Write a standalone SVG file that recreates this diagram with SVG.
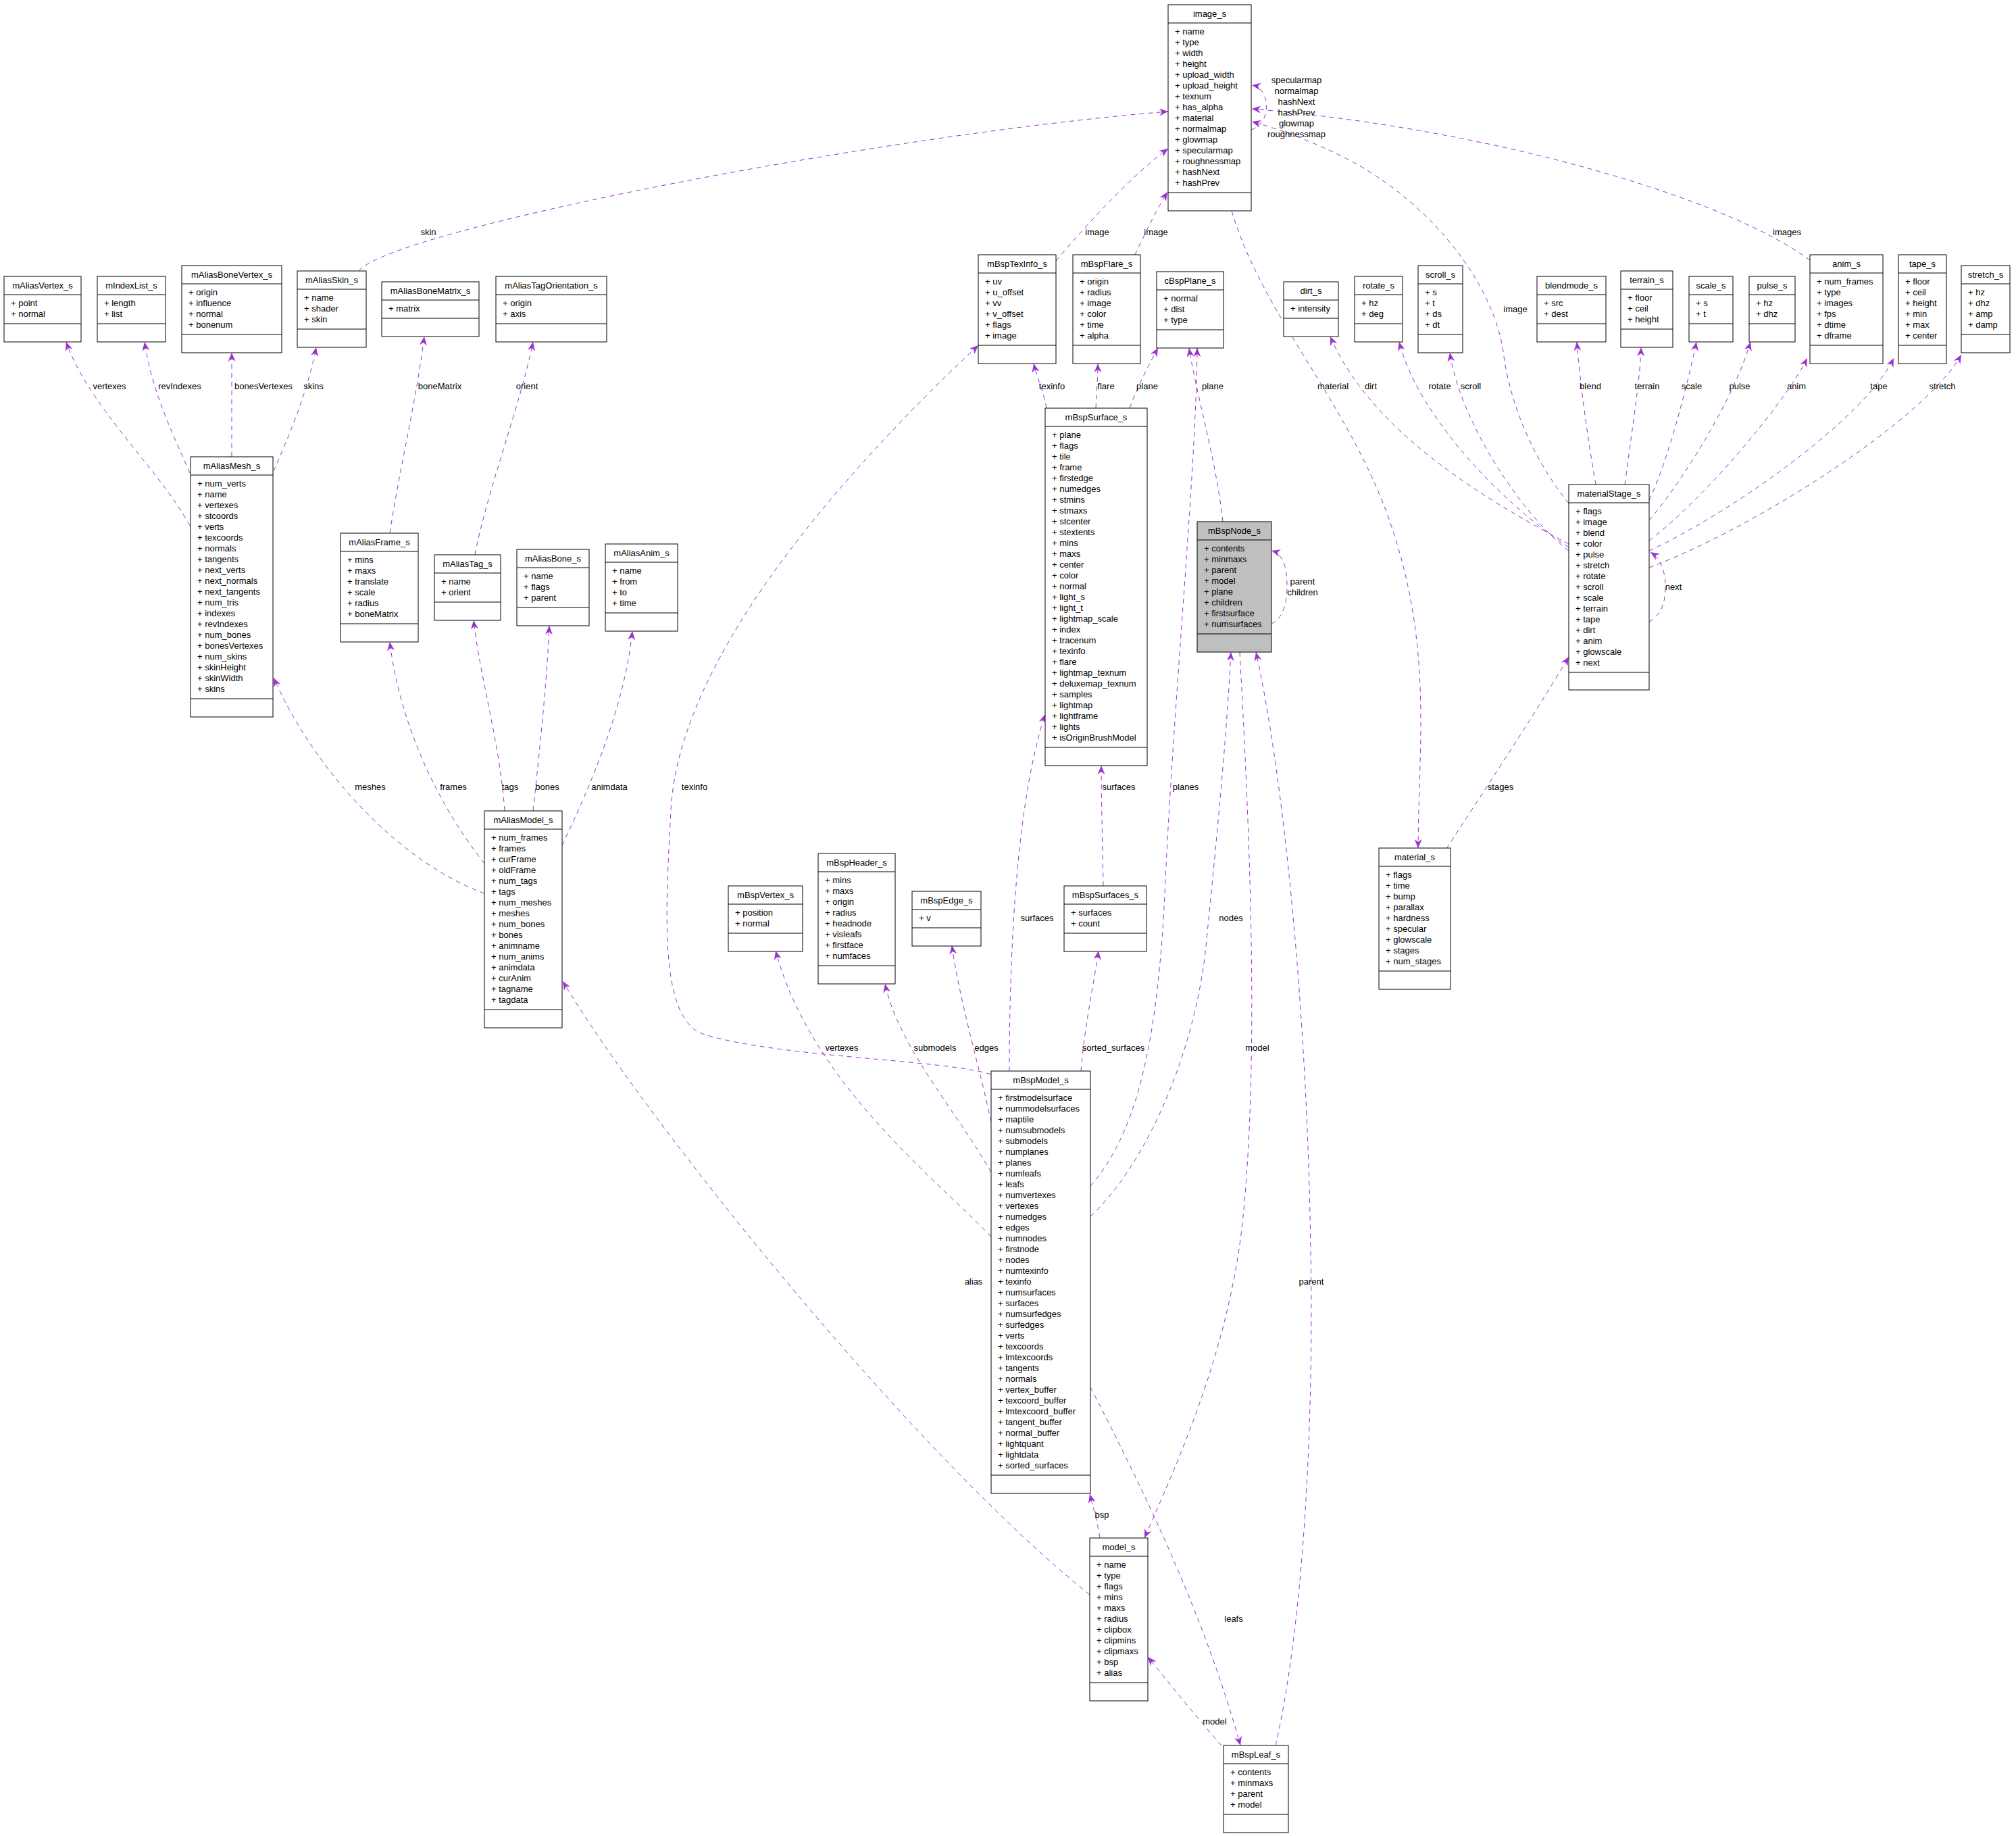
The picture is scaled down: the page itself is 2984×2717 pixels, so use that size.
<svg xmlns="http://www.w3.org/2000/svg" width="2984" height="2717" viewBox="0 0 2984 2717">
<style>
.b{fill:#fff;stroke:#000;stroke-width:1}
.g{fill:#bfbfbf;stroke:#000;stroke-width:1}
.s{stroke:#000;stroke-width:1;fill:none}
text{font-family:"Liberation Sans",Arial,sans-serif;font-size:13px;fill:#000}
.c{text-anchor:middle}
.e{fill:none;stroke:#9a32cd;stroke-width:1;stroke-dasharray:7,6;marker-end:url(#a)}
</style>
<defs>
<marker id="a" markerWidth="14" markerHeight="12" refX="13" refY="6" orient="auto" markerUnits="userSpaceOnUse"><path d="M0,0.5 L13,6 L0,11.5 L4,6 z" fill="#9a32cd"/></marker>
</defs>
<rect width="2984" height="2717" fill="#fff"/>
<g id="connectors">
<path class="e" d="M531 401 C580 340 1300 200 1729 165"/>
<path class="e" d="M1563 386 C1610 330 1680 255 1729 220"/>
<path class="e" d="M1680 377 C1695 345 1712 310 1728 284"/>
<path class="e" d="M1823 312 C1870 470 2000 600 2060 780 S2100 1100 2099 1255"/>
<path class="e" d="M2322 745 C2270 680 2235 600 2225 520 C2210 420 2120 300 1990 233 C1940 208 1890 190 1853 180"/>
<path class="e" d="M2679 385 C2550 290 2200 190 1853 161"/>
<path class="e" d="M1852 192 C1872 185 1876 165 1874 150 C1872 138 1865 128 1853 126"/>
<path class="e" d="M281 778 C240 700 130 600 98 506"/>
<path class="e" d="M281 700 C255 640 225 580 214 506"/>
<path class="e" d="M343 676 C343 620 343 570 343 522"/>
<path class="e" d="M405 697 C430 640 455 580 468 514"/>
<path class="e" d="M577 789 C590 700 615 600 628 498"/>
<path class="e" d="M703 821 C720 730 770 600 789 506"/>
<path class="e" d="M717 1322 C600 1280 470 1150 405 1003"/>
<path class="e" d="M717 1278 C640 1180 590 1060 577 950"/>
<path class="e" d="M747 1200 C740 1100 710 1000 701 918"/>
<path class="e" d="M789 1200 C800 1100 810 1000 813 926"/>
<path class="e" d="M832 1251 C880 1150 925 1040 936 934"/>
<path class="e" d="M1613 2360 C1350 2150 950 1650 833 1452"/>
<path class="e" d="M1467 1590 C1400 1568 1150 1565 1040 1530 C975 1505 985 1350 993 1200 C1005 950 1300 650 1448 511"/>
<path class="e" d="M1494 1585 C1494 1450 1500 1200 1547 1057"/>
<path class="e" d="M1600 1585 C1605 1520 1620 1450 1626 1407"/>
<path class="e" d="M1633 1311 C1632 1250 1630 1180 1630 1133"/>
<path class="e" d="M1467 1830 C1380 1740 1200 1600 1148 1407"/>
<path class="e" d="M1467 1735 C1420 1650 1330 1550 1310 1456"/>
<path class="e" d="M1467 1660 C1450 1580 1420 1480 1409 1399"/>
<path class="e" d="M1614 1755 C1680 1680 1715 1550 1725 1300 C1740 1000 1770 700 1772 515"/>
<path class="e" d="M1614 1800 C1700 1720 1770 1550 1785 1400 C1800 1250 1815 1100 1822 965"/>
<path class="e" d="M1835 965 C1848 1200 1865 1550 1840 1800 C1820 2000 1740 2170 1694 2276"/>
<path class="e" d="M1888 2583 C1930 2400 1945 2100 1940 1850 C1935 1500 1900 1150 1859 965"/>
<path class="e" d="M1614 2053 C1680 2180 1780 2380 1836 2583"/>
<path class="e" d="M1628 2276 C1624 2250 1618 2230 1613 2211"/>
<path class="e" d="M1808 2583 C1770 2540 1730 2490 1699 2452"/>
<path class="e" d="M1672 604 C1685 570 1700 540 1714 515"/>
<path class="e" d="M1810 772 C1800 680 1770 580 1760 515"/>
<path class="e" d="M1549 604 C1545 580 1535 560 1530 538"/>
<path class="e" d="M1622 604 C1623 580 1625 560 1625 538"/>
<path class="e" d="M1882 923 C1900 915 1905 890 1905 870 C1905 840 1900 820 1882 815"/>
<path class="e" d="M2322 805 C2200 740 2030 640 1969 498"/>
<path class="e" d="M2322 810 C2230 750 2100 620 2071 506"/>
<path class="e" d="M2322 815 C2250 760 2160 620 2146 522"/>
<path class="e" d="M2362 717 C2350 650 2338 560 2334 506"/>
<path class="e" d="M2405 717 C2415 640 2428 560 2429 514"/>
<path class="e" d="M2441 740 C2470 680 2500 560 2511 506"/>
<path class="e" d="M2441 770 C2500 700 2570 580 2591 506"/>
<path class="e" d="M2441 800 C2520 740 2640 600 2675 530"/>
<path class="e" d="M2441 815 C2560 760 2760 620 2803 530"/>
<path class="e" d="M2441 840 C2600 780 2850 620 2903 525"/>
<path class="e" d="M2441 920 C2460 910 2465 890 2465 868 C2465 840 2455 825 2443 817"/>
<path class="e" d="M2141 1256 C2190 1180 2270 1060 2322 972"/>
<g class="c">
<text x="634" y="348">skin</text>
<text x="1624" y="348">image</text>
<text x="1711" y="348">image</text>
<text x="1973" y="576">material</text>
<text x="2243" y="462">image</text>
<text x="2645" y="348">images</text>
<text x="1919" y="123">specularmap</text>
<text x="1919" y="139">normalmap</text>
<text x="1919" y="155">hashNext</text>
<text x="1919" y="171">hashPrev</text>
<text x="1919" y="187">glowmap</text>
<text x="1919" y="203">roughnessmap</text>
<text x="162" y="576">vertexes</text>
<text x="266" y="576">revIndexes</text>
<text x="390" y="576">bonesVertexes</text>
<text x="464" y="576">skins</text>
<text x="651" y="576">boneMatrix</text>
<text x="780" y="576">orient</text>
<text x="1557" y="576">texinfo</text>
<text x="1637" y="576">flare</text>
<text x="1698" y="576">plane</text>
<text x="1795" y="576">plane</text>
<text x="2029" y="576">dirt</text>
<text x="2131" y="576">rotate</text>
<text x="2177" y="576">scroll</text>
<text x="2354" y="576">blend</text>
<text x="2438" y="576">terrain</text>
<text x="2504" y="576">scale</text>
<text x="2575" y="576">pulse</text>
<text x="2659" y="576">anim</text>
<text x="2781" y="576">tape</text>
<text x="2875" y="576">stretch</text>
<text x="1928" y="865">parent</text>
<text x="1928" y="881">children</text>
<text x="2477" y="873">next</text>
<text x="548" y="1169">meshes</text>
<text x="671" y="1169">frames</text>
<text x="755" y="1169">tags</text>
<text x="810" y="1169">bones</text>
<text x="902" y="1169">animdata</text>
<text x="1028" y="1169">texinfo</text>
<text x="1755" y="1169">planes</text>
<text x="1656" y="1169">surfaces</text>
<text x="2221" y="1169">stages</text>
<text x="1535" y="1363">surfaces</text>
<text x="1822" y="1363">nodes</text>
<text x="1246" y="1555">vertexes</text>
<text x="1384" y="1555">submodels</text>
<text x="1460" y="1555">edges</text>
<text x="1648" y="1555">sorted_surfaces</text>
<text x="1861" y="1555">model</text>
<text x="1441" y="1901">alias</text>
<text x="1941" y="1901">parent</text>
<text x="1631" y="2246">bsp</text>
<text x="1826" y="2400">leafs</text>
<text x="1798" y="2552">model</text>
</g>
</g>
<g id="image_s"><rect class="b" x="1729" y="7" width="123" height="305"/><path class="s" d="M1729 34H1852M1729 285H1852"/><text class="c" x="1790.5" y="25">image_s</text><text x="1739" y="51"><tspan x="1739">+ name</tspan><tspan x="1739" dy="16">+ type</tspan><tspan x="1739" dy="16">+ width</tspan><tspan x="1739" dy="16">+ height</tspan><tspan x="1739" dy="16">+ upload_width</tspan><tspan x="1739" dy="16">+ upload_height</tspan><tspan x="1739" dy="16">+ texnum</tspan><tspan x="1739" dy="16">+ has_alpha</tspan><tspan x="1739" dy="16">+ material</tspan><tspan x="1739" dy="16">+ normalmap</tspan><tspan x="1739" dy="16">+ glowmap</tspan><tspan x="1739" dy="16">+ specularmap</tspan><tspan x="1739" dy="16">+ roughnessmap</tspan><tspan x="1739" dy="16">+ hashNext</tspan><tspan x="1739" dy="16">+ hashPrev</tspan></text></g>
<g id="mAliasVertex_s"><rect class="b" x="6" y="409" width="114" height="97"/><path class="s" d="M6 436H120M6 479H120"/><text class="c" x="63" y="427">mAliasVertex_s</text><text x="16" y="453"><tspan x="16">+ point</tspan><tspan x="16" dy="16">+ normal</tspan></text></g>
<g id="mIndexList_s"><rect class="b" x="144" y="409" width="101" height="97"/><path class="s" d="M144 436H245M144 479H245"/><text class="c" x="194.5" y="427">mIndexList_s</text><text x="154" y="453"><tspan x="154">+ length</tspan><tspan x="154" dy="16">+ list</tspan></text></g>
<g id="mAliasBoneVertex_s"><rect class="b" x="269" y="393" width="148" height="129"/><path class="s" d="M269 420H417M269 495H417"/><text class="c" x="343" y="411">mAliasBoneVertex_s</text><text x="279" y="437"><tspan x="279">+ origin</tspan><tspan x="279" dy="16">+ influence</tspan><tspan x="279" dy="16">+ normal</tspan><tspan x="279" dy="16">+ bonenum</tspan></text></g>
<g id="mAliasSkin_s"><rect class="b" x="440" y="401" width="102" height="113"/><path class="s" d="M440 428H542M440 487H542"/><text class="c" x="491" y="419">mAliasSkin_s</text><text x="450" y="445"><tspan x="450">+ name</tspan><tspan x="450" dy="16">+ shader</tspan><tspan x="450" dy="16">+ skin</tspan></text></g>
<g id="mAliasBoneMatrix_s"><rect class="b" x="565" y="417" width="144" height="81"/><path class="s" d="M565 444H709M565 471H709"/><text class="c" x="637" y="435">mAliasBoneMatrix_s</text><text x="575" y="461">+ matrix</text></g>
<g id="mAliasTagOrientation_s"><rect class="b" x="734" y="409" width="164" height="97"/><path class="s" d="M734 436H898M734 479H898"/><text class="c" x="816" y="427">mAliasTagOrientation_s</text><text x="744" y="453"><tspan x="744">+ origin</tspan><tspan x="744" dy="16">+ axis</tspan></text></g>
<g id="mAliasMesh_s"><rect class="b" x="282" y="676" width="122" height="385"/><path class="s" d="M282 703H404M282 1034H404"/><text class="c" x="343" y="694">mAliasMesh_s</text><text x="292" y="720"><tspan x="292">+ num_verts</tspan><tspan x="292" dy="16">+ name</tspan><tspan x="292" dy="16">+ vertexes</tspan><tspan x="292" dy="16">+ stcoords</tspan><tspan x="292" dy="16">+ verts</tspan><tspan x="292" dy="16">+ texcoords</tspan><tspan x="292" dy="16">+ normals</tspan><tspan x="292" dy="16">+ tangents</tspan><tspan x="292" dy="16">+ next_verts</tspan><tspan x="292" dy="16">+ next_normals</tspan><tspan x="292" dy="16">+ next_tangents</tspan><tspan x="292" dy="16">+ num_tris</tspan><tspan x="292" dy="16">+ indexes</tspan><tspan x="292" dy="16">+ revIndexes</tspan><tspan x="292" dy="16">+ num_bones</tspan><tspan x="292" dy="16">+ bonesVertexes</tspan><tspan x="292" dy="16">+ num_skins</tspan><tspan x="292" dy="16">+ skinHeight</tspan><tspan x="292" dy="16">+ skinWidth</tspan><tspan x="292" dy="16">+ skins</tspan></text></g>
<g id="mBspTexInfo_s"><rect class="b" x="1448" y="377" width="115" height="161"/><path class="s" d="M1448 404H1563M1448 511H1563"/><text class="c" x="1505.5" y="395">mBspTexInfo_s</text><text x="1458" y="421"><tspan x="1458">+ uv</tspan><tspan x="1458" dy="16">+ u_offset</tspan><tspan x="1458" dy="16">+ vv</tspan><tspan x="1458" dy="16">+ v_offset</tspan><tspan x="1458" dy="16">+ flags</tspan><tspan x="1458" dy="16">+ image</tspan></text></g>
<g id="mBspFlare_s"><rect class="b" x="1588" y="377" width="100" height="161"/><path class="s" d="M1588 404H1688M1588 511H1688"/><text class="c" x="1638" y="395">mBspFlare_s</text><text x="1598" y="421"><tspan x="1598">+ origin</tspan><tspan x="1598" dy="16">+ radius</tspan><tspan x="1598" dy="16">+ image</tspan><tspan x="1598" dy="16">+ color</tspan><tspan x="1598" dy="16">+ time</tspan><tspan x="1598" dy="16">+ alpha</tspan></text></g>
<g id="cBspPlane_s"><rect class="b" x="1712" y="402" width="99" height="113"/><path class="s" d="M1712 429H1811M1712 488H1811"/><text class="c" x="1761.5" y="420">cBspPlane_s</text><text x="1722" y="446"><tspan x="1722">+ normal</tspan><tspan x="1722" dy="16">+ dist</tspan><tspan x="1722" dy="16">+ type</tspan></text></g>
<g id="mBspSurface_s"><rect class="b" x="1547" y="604" width="151" height="529"/><path class="s" d="M1547 631H1698M1547 1106H1698"/><text class="c" x="1622.5" y="622">mBspSurface_s</text><text x="1557" y="648"><tspan x="1557">+ plane</tspan><tspan x="1557" dy="16">+ flags</tspan><tspan x="1557" dy="16">+ tile</tspan><tspan x="1557" dy="16">+ frame</tspan><tspan x="1557" dy="16">+ firstedge</tspan><tspan x="1557" dy="16">+ numedges</tspan><tspan x="1557" dy="16">+ stmins</tspan><tspan x="1557" dy="16">+ stmaxs</tspan><tspan x="1557" dy="16">+ stcenter</tspan><tspan x="1557" dy="16">+ stextents</tspan><tspan x="1557" dy="16">+ mins</tspan><tspan x="1557" dy="16">+ maxs</tspan><tspan x="1557" dy="16">+ center</tspan><tspan x="1557" dy="16">+ color</tspan><tspan x="1557" dy="16">+ normal</tspan><tspan x="1557" dy="16">+ light_s</tspan><tspan x="1557" dy="16">+ light_t</tspan><tspan x="1557" dy="16">+ lightmap_scale</tspan><tspan x="1557" dy="16">+ index</tspan><tspan x="1557" dy="16">+ tracenum</tspan><tspan x="1557" dy="16">+ texinfo</tspan><tspan x="1557" dy="16">+ flare</tspan><tspan x="1557" dy="16">+ lightmap_texnum</tspan><tspan x="1557" dy="16">+ deluxemap_texnum</tspan><tspan x="1557" dy="16">+ samples</tspan><tspan x="1557" dy="16">+ lightmap</tspan><tspan x="1557" dy="16">+ lightframe</tspan><tspan x="1557" dy="16">+ lights</tspan><tspan x="1557" dy="16">+ isOriginBrushModel</tspan></text></g>
<g id="mBspNode_s"><rect class="g" x="1772" y="772" width="110" height="193"/><path class="s" d="M1772 799H1882M1772 938H1882"/><text class="c" x="1827" y="790">mBspNode_s</text><text x="1782" y="816"><tspan x="1782">+ contents</tspan><tspan x="1782" dy="16">+ minmaxs</tspan><tspan x="1782" dy="16">+ parent</tspan><tspan x="1782" dy="16">+ model</tspan><tspan x="1782" dy="16">+ plane</tspan><tspan x="1782" dy="16">+ children</tspan><tspan x="1782" dy="16">+ firstsurface</tspan><tspan x="1782" dy="16">+ numsurfaces</tspan></text></g>
<g id="dirt_s"><rect class="b" x="1900" y="417" width="81" height="81"/><path class="s" d="M1900 444H1981M1900 471H1981"/><text class="c" x="1940.5" y="435">dirt_s</text><text x="1910" y="461">+ intensity</text></g>
<g id="rotate_s"><rect class="b" x="2005" y="409" width="71" height="97"/><path class="s" d="M2005 436H2076M2005 479H2076"/><text class="c" x="2040.5" y="427">rotate_s</text><text x="2015" y="453"><tspan x="2015">+ hz</tspan><tspan x="2015" dy="16">+ deg</tspan></text></g>
<g id="scroll_s"><rect class="b" x="2099" y="393" width="66" height="129"/><path class="s" d="M2099 420H2165M2099 495H2165"/><text class="c" x="2132" y="411">scroll_s</text><text x="2109" y="437"><tspan x="2109">+ s</tspan><tspan x="2109" dy="16">+ t</tspan><tspan x="2109" dy="16">+ ds</tspan><tspan x="2109" dy="16">+ dt</tspan></text></g>
<g id="blendmode_s"><rect class="b" x="2275" y="409" width="102" height="97"/><path class="s" d="M2275 436H2377M2275 479H2377"/><text class="c" x="2326" y="427">blendmode_s</text><text x="2285" y="453"><tspan x="2285">+ src</tspan><tspan x="2285" dy="16">+ dest</tspan></text></g>
<g id="terrain_s"><rect class="b" x="2399" y="401" width="77" height="113"/><path class="s" d="M2399 428H2476M2399 487H2476"/><text class="c" x="2437.5" y="419">terrain_s</text><text x="2409" y="445"><tspan x="2409">+ floor</tspan><tspan x="2409" dy="16">+ ceil</tspan><tspan x="2409" dy="16">+ height</tspan></text></g>
<g id="scale_s"><rect class="b" x="2500" y="409" width="65" height="97"/><path class="s" d="M2500 436H2565M2500 479H2565"/><text class="c" x="2532.5" y="427">scale_s</text><text x="2510" y="453"><tspan x="2510">+ s</tspan><tspan x="2510" dy="16">+ t</tspan></text></g>
<g id="pulse_s"><rect class="b" x="2589" y="409" width="68" height="97"/><path class="s" d="M2589 436H2657M2589 479H2657"/><text class="c" x="2623" y="427">pulse_s</text><text x="2599" y="453"><tspan x="2599">+ hz</tspan><tspan x="2599" dy="16">+ dhz</tspan></text></g>
<g id="anim_s"><rect class="b" x="2679" y="377" width="108" height="161"/><path class="s" d="M2679 404H2787M2679 511H2787"/><text class="c" x="2733" y="395">anim_s</text><text x="2689" y="421"><tspan x="2689">+ num_frames</tspan><tspan x="2689" dy="16">+ type</tspan><tspan x="2689" dy="16">+ images</tspan><tspan x="2689" dy="16">+ fps</tspan><tspan x="2689" dy="16">+ dtime</tspan><tspan x="2689" dy="16">+ dframe</tspan></text></g>
<g id="tape_s"><rect class="b" x="2810" y="377" width="71" height="161"/><path class="s" d="M2810 404H2881M2810 511H2881"/><text class="c" x="2845.5" y="395">tape_s</text><text x="2820" y="421"><tspan x="2820">+ floor</tspan><tspan x="2820" dy="16">+ ceil</tspan><tspan x="2820" dy="16">+ height</tspan><tspan x="2820" dy="16">+ min</tspan><tspan x="2820" dy="16">+ max</tspan><tspan x="2820" dy="16">+ center</tspan></text></g>
<g id="stretch_s"><rect class="b" x="2903" y="393" width="72" height="129"/><path class="s" d="M2903 420H2975M2903 495H2975"/><text class="c" x="2939" y="411">stretch_s</text><text x="2913" y="437"><tspan x="2913">+ hz</tspan><tspan x="2913" dy="16">+ dhz</tspan><tspan x="2913" dy="16">+ amp</tspan><tspan x="2913" dy="16">+ damp</tspan></text></g>
<g id="materialStage_s"><rect class="b" x="2322" y="717" width="119" height="304"/><path class="s" d="M2322 744H2441M2322 995H2441"/><text class="c" x="2381.5" y="735">materialStage_s</text><text x="2332" y="761"><tspan x="2332">+ flags</tspan><tspan x="2332" dy="16">+ image</tspan><tspan x="2332" dy="16">+ blend</tspan><tspan x="2332" dy="16">+ color</tspan><tspan x="2332" dy="16">+ pulse</tspan><tspan x="2332" dy="16">+ stretch</tspan><tspan x="2332" dy="16">+ rotate</tspan><tspan x="2332" dy="16">+ scroll</tspan><tspan x="2332" dy="16">+ scale</tspan><tspan x="2332" dy="16">+ terrain</tspan><tspan x="2332" dy="16">+ tape</tspan><tspan x="2332" dy="16">+ dirt</tspan><tspan x="2332" dy="16">+ anim</tspan><tspan x="2332" dy="16">+ glowscale</tspan><tspan x="2332" dy="16">+ next</tspan></text></g>
<g id="mAliasFrame_s"><rect class="b" x="504" y="789" width="115" height="161"/><path class="s" d="M504 816H619M504 923H619"/><text class="c" x="561.5" y="807">mAliasFrame_s</text><text x="514" y="833"><tspan x="514">+ mins</tspan><tspan x="514" dy="16">+ maxs</tspan><tspan x="514" dy="16">+ translate</tspan><tspan x="514" dy="16">+ scale</tspan><tspan x="514" dy="16">+ radius</tspan><tspan x="514" dy="16">+ boneMatrix</tspan></text></g>
<g id="mAliasTag_s"><rect class="b" x="643" y="821" width="98" height="97"/><path class="s" d="M643 848H741M643 891H741"/><text class="c" x="692" y="839">mAliasTag_s</text><text x="653" y="865"><tspan x="653">+ name</tspan><tspan x="653" dy="16">+ orient</tspan></text></g>
<g id="mAliasBone_s"><rect class="b" x="765" y="813" width="107" height="113"/><path class="s" d="M765 840H872M765 899H872"/><text class="c" x="818.5" y="831">mAliasBone_s</text><text x="775" y="857"><tspan x="775">+ name</tspan><tspan x="775" dy="16">+ flags</tspan><tspan x="775" dy="16">+ parent</tspan></text></g>
<g id="mAliasAnim_s"><rect class="b" x="896" y="805" width="107" height="129"/><path class="s" d="M896 832H1003M896 907H1003"/><text class="c" x="949.5" y="823">mAliasAnim_s</text><text x="906" y="849"><tspan x="906">+ name</tspan><tspan x="906" dy="16">+ from</tspan><tspan x="906" dy="16">+ to</tspan><tspan x="906" dy="16">+ time</tspan></text></g>
<g id="mAliasModel_s"><rect class="b" x="717" y="1200" width="115" height="321"/><path class="s" d="M717 1227H832M717 1494H832"/><text class="c" x="774.5" y="1218">mAliasModel_s</text><text x="727" y="1244"><tspan x="727">+ num_frames</tspan><tspan x="727" dy="16">+ frames</tspan><tspan x="727" dy="16">+ curFrame</tspan><tspan x="727" dy="16">+ oldFrame</tspan><tspan x="727" dy="16">+ num_tags</tspan><tspan x="727" dy="16">+ tags</tspan><tspan x="727" dy="16">+ num_meshes</tspan><tspan x="727" dy="16">+ meshes</tspan><tspan x="727" dy="16">+ num_bones</tspan><tspan x="727" dy="16">+ bones</tspan><tspan x="727" dy="16">+ animname</tspan><tspan x="727" dy="16">+ num_anims</tspan><tspan x="727" dy="16">+ animdata</tspan><tspan x="727" dy="16">+ curAnim</tspan><tspan x="727" dy="16">+ tagname</tspan><tspan x="727" dy="16">+ tagdata</tspan></text></g>
<g id="mBspVertex_s"><rect class="b" x="1078" y="1311" width="110" height="97"/><path class="s" d="M1078 1338H1188M1078 1381H1188"/><text class="c" x="1133" y="1329">mBspVertex_s</text><text x="1088" y="1355"><tspan x="1088">+ position</tspan><tspan x="1088" dy="16">+ normal</tspan></text></g>
<g id="mBspHeader_s"><rect class="b" x="1211" y="1263" width="114" height="193"/><path class="s" d="M1211 1290H1325M1211 1429H1325"/><text class="c" x="1268" y="1281">mBspHeader_s</text><text x="1221" y="1307"><tspan x="1221">+ mins</tspan><tspan x="1221" dy="16">+ maxs</tspan><tspan x="1221" dy="16">+ origin</tspan><tspan x="1221" dy="16">+ radius</tspan><tspan x="1221" dy="16">+ headnode</tspan><tspan x="1221" dy="16">+ visleafs</tspan><tspan x="1221" dy="16">+ firstface</tspan><tspan x="1221" dy="16">+ numfaces</tspan></text></g>
<g id="mBspEdge_s"><rect class="b" x="1350" y="1319" width="102" height="81"/><path class="s" d="M1350 1346H1452M1350 1373H1452"/><text class="c" x="1401" y="1337">mBspEdge_s</text><text x="1360" y="1363">+ v</text></g>
<g id="mBspSurfaces_s"><rect class="b" x="1575" y="1311" width="122" height="97"/><path class="s" d="M1575 1338H1697M1575 1381H1697"/><text class="c" x="1636" y="1329">mBspSurfaces_s</text><text x="1585" y="1355"><tspan x="1585">+ surfaces</tspan><tspan x="1585" dy="16">+ count</tspan></text></g>
<g id="material_s"><rect class="b" x="2041" y="1255" width="106" height="209"/><path class="s" d="M2041 1282H2147M2041 1437H2147"/><text class="c" x="2094" y="1273">material_s</text><text x="2051" y="1299"><tspan x="2051">+ flags</tspan><tspan x="2051" dy="16">+ time</tspan><tspan x="2051" dy="16">+ bump</tspan><tspan x="2051" dy="16">+ parallax</tspan><tspan x="2051" dy="16">+ hardness</tspan><tspan x="2051" dy="16">+ specular</tspan><tspan x="2051" dy="16">+ glowscale</tspan><tspan x="2051" dy="16">+ stages</tspan><tspan x="2051" dy="16">+ num_stages</tspan></text></g>
<g id="mBspModel_s"><rect class="b" x="1467" y="1585" width="147" height="625"/><path class="s" d="M1467 1612H1614M1467 2183H1614"/><text class="c" x="1540.5" y="1603">mBspModel_s</text><text x="1477" y="1629"><tspan x="1477">+ firstmodelsurface</tspan><tspan x="1477" dy="16">+ nummodelsurfaces</tspan><tspan x="1477" dy="16">+ maptile</tspan><tspan x="1477" dy="16">+ numsubmodels</tspan><tspan x="1477" dy="16">+ submodels</tspan><tspan x="1477" dy="16">+ numplanes</tspan><tspan x="1477" dy="16">+ planes</tspan><tspan x="1477" dy="16">+ numleafs</tspan><tspan x="1477" dy="16">+ leafs</tspan><tspan x="1477" dy="16">+ numvertexes</tspan><tspan x="1477" dy="16">+ vertexes</tspan><tspan x="1477" dy="16">+ numedges</tspan><tspan x="1477" dy="16">+ edges</tspan><tspan x="1477" dy="16">+ numnodes</tspan><tspan x="1477" dy="16">+ firstnode</tspan><tspan x="1477" dy="16">+ nodes</tspan><tspan x="1477" dy="16">+ numtexinfo</tspan><tspan x="1477" dy="16">+ texinfo</tspan><tspan x="1477" dy="16">+ numsurfaces</tspan><tspan x="1477" dy="16">+ surfaces</tspan><tspan x="1477" dy="16">+ numsurfedges</tspan><tspan x="1477" dy="16">+ surfedges</tspan><tspan x="1477" dy="16">+ verts</tspan><tspan x="1477" dy="16">+ texcoords</tspan><tspan x="1477" dy="16">+ lmtexcoords</tspan><tspan x="1477" dy="16">+ tangents</tspan><tspan x="1477" dy="16">+ normals</tspan><tspan x="1477" dy="16">+ vertex_buffer</tspan><tspan x="1477" dy="16">+ texcoord_buffer</tspan><tspan x="1477" dy="16">+ lmtexcoord_buffer</tspan><tspan x="1477" dy="16">+ tangent_buffer</tspan><tspan x="1477" dy="16">+ normal_buffer</tspan><tspan x="1477" dy="16">+ lightquant</tspan><tspan x="1477" dy="16">+ lightdata</tspan><tspan x="1477" dy="16">+ sorted_surfaces</tspan></text></g>
<g id="model_s"><rect class="b" x="1613" y="2276" width="86" height="241"/><path class="s" d="M1613 2303H1699M1613 2490H1699"/><text class="c" x="1656" y="2294">model_s</text><text x="1623" y="2320"><tspan x="1623">+ name</tspan><tspan x="1623" dy="16">+ type</tspan><tspan x="1623" dy="16">+ flags</tspan><tspan x="1623" dy="16">+ mins</tspan><tspan x="1623" dy="16">+ maxs</tspan><tspan x="1623" dy="16">+ radius</tspan><tspan x="1623" dy="16">+ clipbox</tspan><tspan x="1623" dy="16">+ clipmins</tspan><tspan x="1623" dy="16">+ clipmaxs</tspan><tspan x="1623" dy="16">+ bsp</tspan><tspan x="1623" dy="16">+ alias</tspan></text></g>
<g id="mBspLeaf_s"><rect class="b" x="1811" y="2583" width="96" height="129"/><path class="s" d="M1811 2610H1907M1811 2685H1907"/><text class="c" x="1859" y="2601">mBspLeaf_s</text><text x="1821" y="2627"><tspan x="1821">+ contents</tspan><tspan x="1821" dy="16">+ minmaxs</tspan><tspan x="1821" dy="16">+ parent</tspan><tspan x="1821" dy="16">+ model</tspan></text></g>
</svg>
